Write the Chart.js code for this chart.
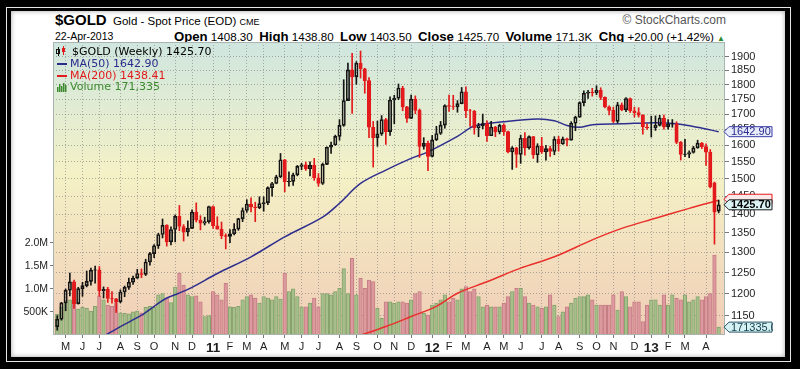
<!DOCTYPE html>
<html>
<head>
<meta charset="utf-8">
<script src="https://cdn.jsdelivr.net/npm/chart.js@4.4.0/dist/chart.umd.min.js"></script>
<style>
  html, body { margin: 0; padding: 0; background: #000; width: 800px; height: 369px; overflow: hidden; }
  #outline { position: absolute; left: 6px; top: 7px; width: 785px; height: 355px; border: 1px solid #e6e6e6; box-sizing: border-box; }
  #panel { position: absolute; left: 11px; top: 11px; width: 774px; height: 346px; background: #fff; box-shadow: inset 0 0 5px rgba(0,0,0,0.35); }
  #c { position: absolute; left: 0; top: 0; }
  .hdr { position: absolute; font-family: "Liberation Sans", Arial, sans-serif; color: #000; white-space: nowrap; line-height: 1; }
  .hdr b { font-size: 13.2px; }
</style>
</head>
<body>
<div id="outline"></div>
<div id="panel"></div>
<div class="hdr" style="left:55px;top:12px;font-size:15px;font-weight:bold;">$GOLD</div>
<div class="hdr" style="left:113px;top:16px;font-size:11.5px;">Gold - Spot Price (EOD) <span style="font-size:9px;">CME</span></div>
<div class="hdr" style="left:55px;top:31px;font-size:10.5px;">22-Apr-2013</div>
<div class="hdr" style="right:75px;top:30px;font-size:11.6px;">
  <b>Open</b> 1408.30 &nbsp;<b>High</b> 1438.80 &nbsp;<b>Low</b> 1403.50 &nbsp;<b>Close</b> 1425.70 &nbsp;<b>Volume</b> 171.3K &nbsp;<b>Chg</b> +20.00 (+1.42%) <span style="color:#2c8a2c;font-size:8px;">&#9650;</span>
</div>
<div class="hdr" style="right:74px;top:14px;font-size:12px;color:#555;">&copy; StockCharts.com</div>
<canvas id="c" width="800" height="369"></canvas>

<script>
// semaines : lundi de départ, une bougie par semaine
const firstMonday = Date.UTC(2010, 3, 19);
const weekCount = 158;

const monthLetters = ['J', 'F', 'M', 'A', 'M', 'J', 'J', 'A', 'S', 'O', 'N', 'D'];
const yearLabels = { 2011: '11', 2012: '12', 2013: '13' };

const priceTicks = [1150, 1200, 1250, 1300, 1350, 1400, 1450, 1500, 1550, 1600, 1650, 1700, 1750, 1800, 1850, 1900];
const volumeTicks = [500000, 1000000, 1500000, 2000000];
const volumeTickLabels = ['500K', '1.0M', '1.5M', '2.0M'];

const opens = [
  1126, 1142, 1179, 1208, 1228, 1177, 1212, 1219, 1229, 1256,
  1257, 1207, 1210, 1189, 1188, 1181, 1204, 1215, 1227, 1237,
  1248, 1246, 1276, 1297, 1317, 1346, 1370, 1327, 1359, 1394,
  1367, 1353, 1362, 1406, 1384, 1376, 1380, 1421, 1369, 1360,
  1343, 1341, 1348, 1360, 1388, 1410, 1428, 1420, 1418, 1429,
  1432, 1474, 1486, 1505, 1556, 1491, 1492, 1511, 1536, 1541,
  1529, 1539, 1502, 1486, 1542, 1594, 1601, 1628, 1663, 1745,
  1852, 1827, 1876, 1856, 1814, 1657, 1624, 1636, 1682, 1643,
  1747, 1753, 1788, 1724, 1686, 1750, 1712, 1597, 1606, 1566,
  1617, 1637, 1664, 1728, 1725, 1724, 1735, 1775, 1711, 1710,
  1656, 1662, 1669, 1630, 1658, 1642, 1663, 1643, 1580, 1592,
  1572, 1622, 1592, 1627, 1571, 1598, 1580, 1590, 1581, 1619,
  1604, 1620, 1616, 1670, 1690, 1738, 1770, 1774, 1772, 1780,
  1756, 1724, 1712, 1676, 1731, 1714, 1752, 1711, 1705, 1696,
  1658, 1656, 1656, 1663, 1687, 1658, 1667, 1668, 1609, 1572,
  1573, 1578, 1592, 1607, 1596, 1579, 1488, 1408.3
];
const highs = [
  1150, 1180, 1211, 1249, 1232, 1215, 1227, 1254, 1261, 1266,
  1265, 1216, 1215, 1205, 1189, 1209, 1218, 1237, 1242, 1258,
  1259, 1283, 1300, 1320, 1349, 1387, 1372, 1366, 1398, 1424,
  1372, 1382, 1412, 1431, 1396, 1392, 1422, 1423, 1393, 1379,
  1348, 1359, 1375, 1389, 1417, 1440, 1445, 1433, 1448, 1448,
  1476, 1489, 1510, 1575, 1557, 1520, 1516, 1539, 1545, 1549,
  1550, 1560, 1515, 1546, 1595, 1610, 1632, 1682, 1817, 1877,
  1912, 1882, 1921, 1858, 1825, 1676, 1677, 1695, 1686, 1758,
  1763, 1802, 1794, 1726, 1764, 1761, 1717, 1624, 1613, 1631,
  1660, 1676, 1731, 1764, 1763, 1745, 1790, 1792, 1716, 1712,
  1670, 1700, 1678, 1676, 1660, 1667, 1668, 1645, 1596, 1594,
  1632, 1640, 1630, 1628, 1605, 1625, 1600, 1597, 1627, 1628,
  1626, 1623, 1675, 1693, 1741, 1778, 1780, 1787, 1796, 1789,
  1758, 1727, 1723, 1739, 1737, 1755, 1754, 1723, 1721, 1698,
  1668, 1693, 1694, 1696, 1697, 1682, 1682, 1675, 1612, 1619,
  1583, 1597, 1616, 1609, 1605, 1587, 1490, 1438.8
];
const lows = [
  1118, 1140, 1161, 1195, 1166, 1176, 1194, 1216, 1220, 1225,
  1194, 1190, 1180, 1178, 1157, 1179, 1193, 1210, 1222, 1236,
  1238, 1243, 1268, 1287, 1310, 1337, 1316, 1319, 1327, 1356,
  1329, 1342, 1361, 1379, 1358, 1371, 1376, 1362, 1360, 1335,
  1309, 1325, 1345, 1357, 1380, 1405, 1406, 1380, 1415, 1408,
  1426, 1450, 1485, 1503, 1462, 1478, 1480, 1508, 1526, 1524,
  1508, 1495, 1478, 1483, 1541, 1575, 1600, 1616, 1660, 1752,
  1702, 1801, 1823, 1770, 1624, 1534, 1597, 1631, 1603, 1631,
  1668, 1748, 1711, 1673, 1686, 1701, 1563, 1588, 1523, 1564,
  1615, 1634, 1654, 1709, 1715, 1706, 1734, 1688, 1660, 1635,
  1627, 1652, 1612, 1630, 1627, 1636, 1631, 1577, 1527, 1533,
  1545, 1570, 1588, 1560, 1548, 1575, 1555, 1566, 1571, 1582,
  1603, 1598, 1616, 1646, 1689, 1727, 1752, 1760, 1765, 1748,
  1720, 1697, 1672, 1671, 1711, 1708, 1705, 1690, 1690, 1635,
  1650, 1626, 1647, 1661, 1651, 1651, 1657, 1605, 1555, 1565,
  1562, 1576, 1591, 1590, 1539, 1473, 1321, 1403.5
];
const closes = [
  1142, 1179, 1208, 1228, 1177, 1212, 1219, 1229, 1256, 1257,
  1207, 1210, 1189, 1188, 1181, 1204, 1215, 1227, 1237, 1248,
  1246, 1276, 1297, 1317, 1346, 1370, 1327, 1359, 1394, 1367,
  1353, 1362, 1406, 1384, 1376, 1380, 1421, 1369, 1360, 1343,
  1341, 1348, 1360, 1388, 1410, 1428, 1420, 1418, 1429, 1432,
  1474, 1486, 1505, 1556, 1491, 1492, 1511, 1536, 1541, 1529,
  1539, 1502, 1486, 1542, 1594, 1601, 1628, 1663, 1745, 1852,
  1827, 1876, 1856, 1814, 1657, 1624, 1636, 1682, 1643, 1747,
  1753, 1788, 1724, 1686, 1750, 1712, 1597, 1606, 1566, 1617,
  1637, 1664, 1728, 1725, 1724, 1735, 1775, 1711, 1710, 1656,
  1662, 1669, 1630, 1658, 1642, 1663, 1643, 1580, 1592, 1572,
  1622, 1592, 1627, 1571, 1598, 1580, 1590, 1581, 1619, 1604,
  1620, 1616, 1670, 1690, 1738, 1770, 1774, 1772, 1780, 1756,
  1724, 1712, 1676, 1731, 1714, 1752, 1711, 1705, 1696, 1658,
  1656, 1656, 1663, 1687, 1658, 1667, 1668, 1609, 1572, 1573,
  1578, 1592, 1607, 1596, 1579, 1476, 1405.7, 1425.7
];
// volume en milliers
const volumesK = [
  450, 600, 700, 760, 830, 560, 600, 580, 520, 620,
  850, 760, 650, 620, 700, 480, 470, 460, 500, 520,
  480, 600, 620, 600, 870, 900, 800, 700, 1040, 1340,
  1080, 870, 830, 850, 720, 400, 420, 940, 870, 760,
  1120, 610, 600, 620, 760, 830, 870, 800, 690, 830,
  800, 760, 830, 780, 1340, 940, 1000, 830, 610, 610,
  690, 800, 610, 900, 900, 870, 940, 1010, 1440, 900,
  1660, 870, 1230, 1010, 1190, 1160, 580, 360, 720, 720,
  690, 720, 720, 690, 760, 900, 940, 470, 430, 650,
  690, 760, 870, 720, 800, 760, 1000, 1050, 940, 1000,
  830, 610, 650, 610, 610, 610, 690, 830, 940, 1010,
  1010, 830, 690, 650, 610, 580, 610, 870, 650, 400,
  500, 610, 690, 800, 830, 830, 870, 760, 650, 650,
  650, 650, 870, 540, 940, 830, 610, 720, 720, 290,
  650, 760, 760, 650, 870, 650, 870, 795, 760, 870,
  720, 760, 830, 760, 830, 900, 1730, 171.335
];

// moyennes mobiles (semaine, valeur)
const ma50Weeks = [11, 15, 20, 24, 26, 31, 38, 46, 54, 63, 67, 72, 78, 84, 88, 95, 99, 106, 114, 118, 121, 124, 127, 134, 142, 147, 152, 157];
const ma50Values = [1105, 1126, 1151, 1178, 1190, 1210, 1248, 1289, 1340, 1392, 1430, 1486, 1525, 1560, 1580, 1628, 1661, 1675, 1684, 1678, 1663, 1657, 1665, 1668, 1672, 1668, 1657, 1642.90];
const ma200Weeks = [71, 78, 84, 90, 95, 102, 110, 118, 127, 134, 142, 150, 157];
const ma200Values = [1104, 1126, 1148, 1171, 1201, 1228, 1261, 1289, 1332, 1362, 1389, 1416, 1438.41];

const lastClose = 1425.70;
const lastMa50 = 1642.90;
const lastMa200 = 1438.41;
const lastVolume = 171335;

// couleurs
const RED = '#e3191c';
const BLACK = '#141414';
const VOL_UP = '#a6c08c';
const VOL_UP_EDGE = '#86a26c';
const VOL_DOWN = '#dd9a9e';
const VOL_DOWN_EDGE = '#c57c84';

// libellés des mois : première semaine dont le vendredi tombe dans un nouveau mois
const monthTicks = {};
const yearWeeks = new Set();
let prevMonth = -1;
for (let i = 0; i < weekCount; i++) {
  const friday = new Date(firstMonday + (i * 7 + 4) * 86400000);
  const m = friday.getUTCMonth();
  if (prevMonth !== -1 && m !== prevMonth) {
    if (m === 0) {
      monthTicks[i] = yearLabels[friday.getUTCFullYear()];
      yearWeeks.add(i);
    } else {
      monthTicks[i] = monthLetters[m];
    }
  }
  prevMonth = m;
}

// couleur de chaque bougie (rouge si clôture en baisse)
const isDown = closes.map((c, i) => c < (i === 0 ? opens[0] : closes[i - 1]));
const candleColor = isDown.map(d => d ? RED : BLACK);

const bodyData = [];
const wickData = [];
const wickColors = [];
const volumeData = [];
for (let i = 0; i < weekCount; i++) {
  const top = Math.max(opens[i], closes[i]);
  const bottom = Math.min(opens[i], closes[i]);
  bodyData.push({ x: i, y: [bottom, top] });
  wickData.push({ x: i, y: [top, highs[i]] });
  wickData.push({ x: i, y: [lows[i], bottom] });
  wickColors.push(candleColor[i], candleColor[i]);
  volumeData.push({ x: i, y: volumesK[i] * 1000 });
}

const ma50Data = ma50Weeks.map((w, k) => ({ x: w, y: ma50Values[k] }));
const ma200Data = ma200Weeks.map((w, k) => ({ x: w, y: ma200Values[k] }));

// fond dégradé + cadre de la zone de tracé
const backgroundPlugin = {
  id: 'plotBackground',
  beforeDraw(chart) {
    const { ctx, chartArea: a } = chart;
    const g = ctx.createLinearGradient(0, a.top, 0, a.bottom);
    g.addColorStop(0, '#cfe6df');
    g.addColorStop(0.45, '#f4f1c6');
    g.addColorStop(1, '#f0cdb7');
    ctx.save();
    ctx.fillStyle = g;
    ctx.fillRect(a.left, a.top, a.right - a.left, a.bottom - a.top);
    ctx.restore();
  },
  afterDatasetsDraw(chart) {
    const { ctx, chartArea: a } = chart;
    ctx.save();
    ctx.strokeStyle = '#a9b3b0';
    ctx.lineWidth = 1;
    ctx.strokeRect(a.left + 0.5, a.top + 0.5, a.right - a.left - 1, a.bottom - a.top - 1);
    ctx.restore();
  }
};

function drawTag(ctx, x, y, text, border, fill, color, bold) {
  const h = 10, w = 48;
  ctx.beginPath();
  ctx.moveTo(x, y);
  ctx.lineTo(x + 5, y - h / 2);
  ctx.lineTo(x + w, y - h / 2);
  ctx.lineTo(x + w, y + h / 2);
  ctx.lineTo(x + 5, y + h / 2);
  ctx.closePath();
  ctx.fillStyle = fill;
  ctx.fill();
  ctx.strokeStyle = border;
  ctx.lineWidth = 1;
  ctx.stroke();
  if (!text) return;
  ctx.fillStyle = color;
  ctx.font = (bold ? 'bold ' : '') + '11px "Liberation Sans", Arial, sans-serif';
  ctx.textBaseline = 'middle';
  ctx.textAlign = 'left';
  ctx.fillText(text, x + 7, y + 0.5);
}

// légende en haut à gauche et étiquettes de la dernière valeur
const overlayPlugin = {
  id: 'overlay',
  afterDraw(chart) {
    const { ctx, chartArea: a } = chart;
    const yP = chart.scales.y;
    const yV = chart.scales.yVol;
    ctx.save();

    // petit symbole chandelier
    ctx.fillStyle = BLACK;
    ctx.fillRect(a.left + 5, a.top + 5, 1, 9);
    ctx.strokeStyle = BLACK;
    ctx.strokeRect(a.left + 3.5, a.top + 7.5, 3, 4);
    ctx.fillStyle = RED;
    ctx.fillRect(a.left + 10, a.top + 4, 1, 9);
    ctx.fillRect(a.left + 9, a.top + 6, 3, 4);

    ctx.font = '11px "DejaVu Sans", Verdana, sans-serif';
    ctx.textBaseline = 'middle';
    ctx.textAlign = 'left';
    ctx.fillStyle = '#000';
    ctx.fillText('$GOLD (Weekly) ' + lastClose.toFixed(2), a.left + 19, a.top + 10);

    ctx.fillStyle = '#2b2b8c';
    ctx.fillRect(a.left + 4, a.top + 21, 10, 2);
    ctx.fillText('MA(50) ' + lastMa50.toFixed(2), a.left + 17, a.top + 22);

    ctx.fillStyle = RED;
    ctx.fillRect(a.left + 4, a.top + 33, 10, 2);
    ctx.fillText('MA(200) ' + lastMa200.toFixed(2), a.left + 17, a.top + 34);

    ctx.fillStyle = '#3c8a2e';
    [[4, 5], [6, 8], [8, 6], [10, 9], [12, 7]].forEach(([dx, h]) => ctx.fillRect(a.left + dx, a.top + 50 - h, 1.5, h));
    ctx.fillText('Volume ' + lastVolume.toLocaleString('en-US'), a.left + 17, a.top + 45);

    // étiquettes sur l'axe de droite (celle de la MA(200) est presque cachée)
    const tx = a.right - 1;
    drawTag(ctx, tx, yP.getPixelForValue(lastMa50), lastMa50.toFixed(2), '#3a3aa6', '#e6ecfa', '#2b2b8c', false);
    drawTag(ctx, tx, yP.getPixelForValue(lastMa200) - 1, '', RED, '#fbe9ea', RED, false);
    drawTag(ctx, tx, yP.getPixelForValue(lastClose), lastClose.toFixed(2), '#1a1a1a', '#dcf4f6', '#000', true);
    ctx.beginPath();
    ctx.rect(0, 0, 773, 369);
    ctx.clip();
    drawTag(ctx, tx, yV.getPixelForValue(lastVolume), lastVolume.toFixed(1), '#2a5866', '#d6f1f4', '#17424f', false);
    ctx.restore();
  }
};

const tickFont = { family: '"Liberation Sans", Arial, sans-serif', size: 11 };

new Chart(document.getElementById('c'), {
  type: 'bar',
  data: {
    datasets: [
      {
        label: 'Corps',
        data: bodyData,
        yAxisID: 'y',
        grouped: false,
        order: 0,
        barThickness: 3.4,
        borderWidth: 1,
        borderSkipped: false,
        borderColor: candleColor,
        backgroundColor: closes.map((c, i) => c < opens[i] ? candleColor[i] : 'rgba(0,0,0,0)')
      },
      {
        label: 'Mèches',
        data: wickData,
        yAxisID: 'y',
        grouped: false,
        order: 1,
        barThickness: 1,
        borderWidth: 0,
        backgroundColor: wickColors
      },
      {
        type: 'line',
        label: 'MA(50)',
        data: ma50Data,
        yAxisID: 'y',
        order: 2,
        borderColor: '#2e2e8e',
        borderWidth: 1.5,
        pointRadius: 0,
        tension: 0.35,
        fill: false
      },
      {
        type: 'line',
        label: 'MA(200)',
        data: ma200Data,
        yAxisID: 'y',
        order: 2,
        borderColor: '#e8302a',
        borderWidth: 1.5,
        pointRadius: 0,
        tension: 0.35,
        fill: false
      },
      {
        label: 'Volume',
        data: volumeData,
        yAxisID: 'yVol',
        grouped: false,
        order: 3,
        barThickness: 3.6,
        borderWidth: 1,
        borderSkipped: 'bottom',
        backgroundColor: isDown.map(d => d ? VOL_DOWN : VOL_UP),
        borderColor: isDown.map(d => d ? VOL_DOWN_EDGE : VOL_UP_EDGE)
      }
    ]
  },
  options: {
    responsive: false,
    animation: false,
    events: [],
    layout: { padding: { top: 42, left: 0, right: 0, bottom: 0 } },
    plugins: { legend: { display: false }, tooltip: { enabled: false } },
    scales: {
      x: {
        type: 'linear',
        offset: false,
        min: -1,
        max: 158.5,
        afterBuildTicks: (scale) => {
          scale.ticks = Object.keys(monthTicks).map(k => ({ value: Number(k) }));
        },
        afterFit: (scale) => { scale.height = 34; },
        ticks: {
          autoSkip: false,
          maxRotation: 0,
          padding: 2,
          color: '#1e1e1e',
          callback: (v) => monthTicks[v] || '',
          font: (c) => (c.tick && yearWeeks.has(c.tick.value))
            ? { family: tickFont.family, size: 13.5, weight: 'bold' }
            : tickFont
        },
        grid: { offset: false, color: 'rgba(115,115,115,0.55)', lineWidth: 1, tickLength: 3, tickColor: '#777' },
        border: { display: false, dash: [1, 2] }
      },
      y: {
        type: 'logarithmic',
        position: 'right',
        min: 1107.7,
        max: 1954.9,
        afterBuildTicks: (scale) => { scale.ticks = priceTicks.map(v => ({ value: v })); },
        afterFit: (scale) => { scale.width = 75; },
        ticks: { color: '#1e1e1e', font: tickFont, padding: 2, callback: (v) => String(v) },
        grid: { color: 'rgba(115,115,115,0.55)', lineWidth: 1, tickLength: 4, tickColor: '#777' },
        border: { display: false, dash: [1, 2] }
      },
      yVol: {
        type: 'linear',
        position: 'left',
        min: 0,
        max: 6350000,
        afterBuildTicks: (scale) => { scale.ticks = volumeTicks.map(v => ({ value: v })); },
        afterFit: (scale) => { scale.width = 53; },
        ticks: {
          color: '#1e1e1e',
          font: { family: tickFont.family, size: 10.5 },
          padding: 2,
          callback: (v) => volumeTickLabels[volumeTicks.indexOf(v)]
        },
        grid: { drawOnChartArea: false, tickLength: 3, tickColor: '#777' },
        border: { display: false }
      }
    }
  },
  plugins: [backgroundPlugin, overlayPlugin]
});
</script>
</body>
</html>
